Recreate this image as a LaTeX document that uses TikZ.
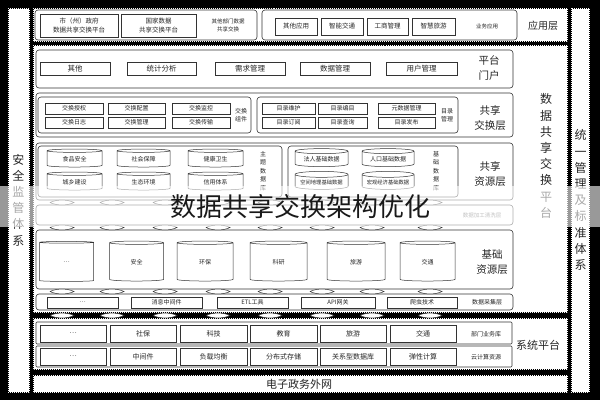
\documentclass[tikz,border=0pt]{standalone}
\usepackage{fontspec}
\setmainfont{Noto Sans CJK SC}
\usetikzlibrary{shapes.geometric}
\begin{document}
\begin{tikzpicture}[x=1pt,y=-1pt,
  panel/.style={draw=black!80, line width=0.6pt, rounded corners=3pt, fill=white},
  rowbox/.style={draw=black!80, line width=0.6pt, rounded corners=1pt, fill=white},
  edge/.style={draw=black, line width=1pt, dash pattern=on 1pt off 1pt},
  cell/.style={draw=black!80, line width=0.5pt, fill=white, inner sep=0pt, text=black!85, font=\fontsize{6}{7}\selectfont},
  bigcell/.style={cell, font=\fontsize{7.5}{9}\selectfont},
  syscell/.style={cell, font=\fontsize{7}{9}\selectfont},
  lbl/.style={inner sep=0pt, align=center, text=black!85, font=\fontsize{6}{8}\selectfont},
  layer/.style={inner sep=0pt, align=center, text=black!85, font=\fontsize{10.5}{15}\selectfont},
  cyl/.style={cylinder, shape border rotate=90, aspect=0.14, draw=black!80, line width=0.5pt, fill=white, inner sep=0pt, text=black!85, font=\fontsize{6}{7}\selectfont},
  vtext/.style={inner sep=0pt, align=center, text=black!85, font=\fontsize{12}{16.2}\selectfont},
  lensp/.pic={\draw[black!80, fill=white, line width=0.5pt] (-12,0) .. controls (-6,-3.2) and (6,-3.2) .. (12,0) .. controls (6,3.2) and (-6,3.2) .. (-12,0);}
]
\useasboundingbox (0,0) rectangle (600,400);
% background and white panels
\fill[black] (0,0) rectangle (600,400);
\fill[white] (8,8) rectangle (30,393);
\fill[white] (33,8) rectangle (568,42);
\fill[white] (33,45) rectangle (568,313);
\fill[white] (33,318) rectangle (568,370);
\fill[white] (33,375) rectangle (568,393);
\fill[white] (571,8) rectangle (590,393);
% dashed edges of the black strips
\draw[edge] (8.5,8.5) rectangle (29.5,392.5);
\draw[edge] (33.5,8.5) rectangle (567.5,41.5);
\draw[edge] (33.5,45.5) rectangle (567.5,312.5);
\draw[edge] (33.5,318.5) rectangle (567.5,369.5);
\draw[edge] (33.5,375.5) rectangle (567.5,392.5);
\draw[edge] (571.5,8.5) rectangle (589.5,392.5);

% ---------------- application layer
\draw[panel] (35,10) rectangle (257,40);
\node[cell, minimum width=78, minimum height=23, align=center, font=\fontsize{6.5}{9}\selectfont] (a1) at (79,25.5) {市（州）政府\\数据共享交换平台};
\node[cell, minimum width=75, minimum height=23, align=center, font=\fontsize{6.5}{9}\selectfont] (a2) at (158.5,25.5) {国家数据\\共享交换平台};
\node[lbl, font=\fontsize{5.5}{8}\selectfont] (a3) at (228,25) {其他部门数据\\共享交换};
\draw[panel] (262,10) rectangle (517,40);
\node[cell, minimum width=42, minimum height=17, font=\fontsize{6.5}{8}\selectfont] (a4) at (296,26.5) {其他应用};
\node[cell, minimum width=42, minimum height=17, font=\fontsize{6.5}{8}\selectfont] (a5) at (342,26.5) {智能交通};
\node[cell, minimum width=41, minimum height=17, font=\fontsize{6.5}{8}\selectfont] (a6) at (387.5,26.5) {工商管理};
\node[cell, minimum width=43, minimum height=17, font=\fontsize{6.5}{8}\selectfont] (a7) at (433.5,26.5) {智慧旅游};
\node[lbl, font=\fontsize{5.5}{7}\selectfont] (a8) at (487,26) {业务应用};
\node[layer, font=\fontsize{10}{12}\selectfont] (ly1) at (543,26) {应用层};

% ---------------- portal
\draw[panel] (36,50) rectangle (513,88);
\node[bigcell, minimum width=70, minimum height=13] (p1) at (75,68.5) {其他};
\node[bigcell, minimum width=69, minimum height=13] (p2) at (161.5,68.5) {统计分析};
\node[bigcell, minimum width=70, minimum height=13] (p3) at (250,68.5) {需求管理};
\node[bigcell, minimum width=70, minimum height=13] (p4) at (335,68.5) {数据管理};
\node[bigcell, minimum width=71, minimum height=13] (p5) at (421.5,68.5) {用户管理};
\node[layer] (ly2) at (489,68) {平台\\门户};

% ---------------- shared exchange layer
\draw[panel] (36,93) rectangle (513,137);
\draw[panel] (38,97) rectangle (251,133);
\node[cell, minimum width=58, minimum height=11] (e1) at (74,108.5) {交换授权};
\node[cell, minimum width=57, minimum height=11] (e2) at (136.5,108.5) {交换配置};
\node[cell, minimum width=58, minimum height=11] (e3) at (201,108.5) {交换监控};
\node[cell, minimum width=58, minimum height=11] (e4) at (74,122.5) {交换日志};
\node[cell, minimum width=57, minimum height=11] (e5) at (136.5,122.5) {交换管理};
\node[cell, minimum width=58, minimum height=11] (e6) at (201,122.5) {交换传输};
\node[lbl] (e7) at (241,115.5) {交换\\组件};
\draw[panel] (257,97) rectangle (458,133);
\node[cell, minimum width=53, minimum height=11] (m1) at (288.5,108.5) {目录维护};
\node[cell, minimum width=49, minimum height=11] (m2) at (342.5,108.5) {目录编目};
\node[cell, minimum width=57, minimum height=11] (m3) at (406.5,108.5) {元数据管理};
\node[cell, minimum width=53, minimum height=11] (m4) at (288.5,122.5) {目录订阅};
\node[cell, minimum width=49, minimum height=11] (m5) at (342.5,122.5) {目录查询};
\node[cell, minimum width=57, minimum height=11] (m6) at (406.5,122.5) {目录发布};
\node[lbl] (m7) at (447,115.5) {目录\\管理};
\node[layer] (ly3) at (490,118.5) {共享\\交换层};

% ---------------- shared resource layer
\draw[panel] (36,143) rectangle (513,200);
\draw[panel] (38,146) rectangle (282,197);
\node[cyl, minimum width=55, minimum height=18] (s1) at (74.5,159) {食品安全};
\node[cyl, minimum width=53, minimum height=18] (s2) at (143.5,159) {社会保障};
\node[cyl, minimum width=55, minimum height=18] (s3) at (215.5,159) {健康卫生};
\node[cyl, minimum width=55, minimum height=18] (s4) at (74.5,182) {城乡建设};
\node[cyl, minimum width=53, minimum height=18] (s5) at (143.5,182) {生态环境};
\node[cyl, minimum width=55, minimum height=18] (s6) at (215.5,182) {信用体系};
\node[lbl, font=\fontsize{6}{8.5}\selectfont] (s7) at (263,171) {主\\题\\数\\据\\库};
\draw[panel] (288,146) rectangle (458,197);
\node[cyl, minimum width=53, minimum height=18] (b1) at (321.5,159) {法人基础数据};
\node[cyl, minimum width=52, minimum height=18] (b2) at (388,159) {人口基础数据};
\node[cyl, minimum width=53, minimum height=18, font=\fontsize{5.3}{6}\selectfont] (b3) at (321.5,182) {空间地理基础数据};
\node[cyl, minimum width=52, minimum height=18, font=\fontsize{5.3}{6}\selectfont] (b4) at (388,182) {宏观经济基础数据};
\node[lbl, font=\fontsize{6}{8.5}\selectfont] (b5) at (436,171) {基\\础\\数\\据\\库};
\node[layer] (ly4) at (490,174) {共享\\资源层};

% ---------------- data processing layer
\draw[panel] (36,205) rectangle (513,225);
\node[lbl, text=black!60, font=\fontsize{5.5}{7}\selectfont] (d1) at (482,215) {数据加工清洗层};

% ---------------- basic resource layer
\draw[panel] (36,230) rectangle (513,289);
\node[cyl, minimum width=54, minimum height=40, aspect=0.28] (r1) at (66.5,262) {…};
\node[cyl, minimum width=54, minimum height=40, aspect=0.28] (r2) at (136.5,262) {安全};
\node[cyl, minimum width=56, minimum height=40, aspect=0.28] (r3) at (205,262) {环保};
\node[cyl, minimum width=57, minimum height=40, aspect=0.28] (r4) at (278.5,262) {科研};
\node[cyl, minimum width=58, minimum height=40, aspect=0.28] (r5) at (356,262) {旅游};
\node[cyl, minimum width=55, minimum height=40, aspect=0.28] (r6) at (427.5,262) {交通};
\node[layer] (ly5) at (492,262) {基础\\资源层};

% ---------------- data collection layer
\draw[panel] (36,294) rectangle (513,310);
\node[cell, minimum width=71, minimum height=11] (c1) at (82.5,302.5) {…};
\node[cell, minimum width=71, minimum height=11] (c2) at (166.5,302.5) {消息中间件};
\node[cell, minimum width=71, minimum height=11] (c3) at (252.5,302.5) {ETL工具};
\node[cell, minimum width=74, minimum height=11] (c4) at (338,302.5) {API网关};
\node[cell, minimum width=70, minimum height=11] (c5) at (422,302.5) {爬虫技术};
\node[lbl] (c6) at (487,302) {数据采集层};

% ---------------- lens connectors between layers
\foreach \yy in {202.5,227.5,291.5,315.5}{
  \foreach \xx in {62,112,165,218,270,322,372,430}{
    \pic at (\xx,\yy) {lensp};
  }
}

% ---------------- system platform
\draw[rowbox] (36,322) rectangle (512,344);
\draw[rowbox] (36,346) rectangle (512,367);
\node[syscell, minimum width=66, minimum height=17] (t1) at (73,333.5) {…};
\node[syscell, minimum width=66, minimum height=17] (t2) at (143,333.5) {社保};
\node[syscell, minimum width=67, minimum height=17] (t3) at (213.5,333.5) {科技};
\node[syscell, minimum width=67, minimum height=17] (t4) at (283.5,333.5) {教育};
\node[syscell, minimum width=66, minimum height=17] (t5) at (353,333.5) {旅游};
\node[syscell, minimum width=66, minimum height=17] (t6) at (423,333.5) {交通};
\node[lbl] (t7) at (486,334) {部门业务库};
\node[syscell, minimum width=66, minimum height=17] (u1) at (73,356.5) {…};
\node[syscell, minimum width=66, minimum height=17] (u2) at (143,356.5) {中间件};
\node[syscell, minimum width=67, minimum height=17] (u3) at (213.5,356.5) {负载均衡};
\node[syscell, minimum width=67, minimum height=17] (u4) at (283.5,356.5) {分布式存储};
\node[syscell, minimum width=66, minimum height=17] (u5) at (353,356.5) {关系型数据库};
\node[syscell, minimum width=66, minimum height=17] (u6) at (423,356.5) {弹性计算};
\node[lbl] (u7) at (486,357) {云计算资源};
\node[layer, font=\fontsize{11}{13}\selectfont] (ly6) at (538,345) {系统平台};

% ---------------- bottom network
\node[layer, font=\fontsize{11}{13}\selectfont] (net) at (299,384) {电子政务外网};

% ---------------- vertical side labels
\node[vtext] (sec) at (18.5,200) {安\\全\\监\\管\\体\\系};
\node[vtext] (plat) at (546,156) {数\\据\\共\\享\\交\\换\\平\\台};
\node[vtext] (std) at (580.5,200) {统\\一\\管\\理\\及\\标\\准\\体\\系};

% ---------------- title overlay
\fill[white, opacity=0.6] (0,186) rectangle (600,227);
\node[inner sep=0pt, text=black!90, font=\fontsize{26}{30}\selectfont] (title) at (300,207) {数据共享交换架构优化};
\end{tikzpicture}
\end{document}
